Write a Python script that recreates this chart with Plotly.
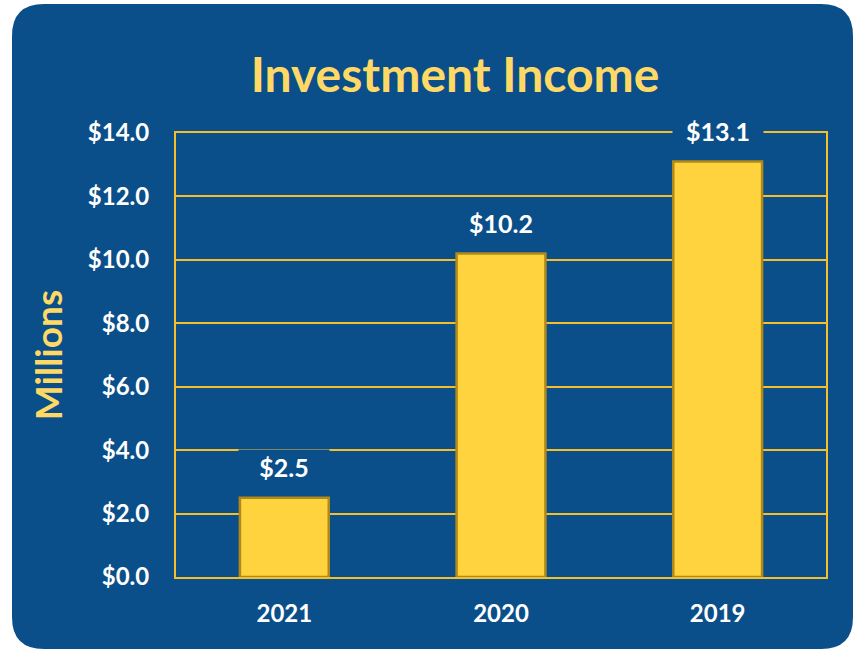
import plotly.graph_objects as go

years = ["2021", "2020", "2019"]
income = [2.5, 10.2, 13.1]
label_text = ["$2.5", "$10.2", "$13.1"]

BLUE = "#0B4F8A"
GOLD = "#F5BF2A"
BAR = "#FFD33D"
TITLE = "#FFD966"
FONT = "Lato"

W, H = 856, 651
L, R, T, B = 176, 30, 133, 74


def px_x(x):
    return (x - L) / (W - L - R)


def px_y(y):
    return (H - B - y) / (H - T - B)


def rounded_box(x0, y0, x1, y1, r):
    # rounded rectangle in pixel space, turned into paper coords
    pts = [
        f"M {px_x(x0 + r)},{px_y(y0)}",
        f"L {px_x(x1 - r)},{px_y(y0)}",
        f"Q {px_x(x1)},{px_y(y0)} {px_x(x1)},{px_y(y0 + r)}",
        f"L {px_x(x1)},{px_y(y1 - r)}",
        f"Q {px_x(x1)},{px_y(y1)} {px_x(x1 - r)},{px_y(y1)}",
        f"L {px_x(x0 + r)},{px_y(y1)}",
        f"Q {px_x(x0)},{px_y(y1)} {px_x(x0)},{px_y(y1 - r)}",
        f"L {px_x(x0)},{px_y(y0 + r)}",
        f"Q {px_x(x0)},{px_y(y0)} {px_x(x0 + r)},{px_y(y0)}",
        "Z",
    ]
    return " ".join(pts)


fig = go.Figure(
    go.Bar(
        x=years,
        y=income,
        marker=dict(color=BAR, line=dict(color="#B08A18", width=2.5)),
        width=0.41,
        hoverinfo="skip",
    )
)

# numeric-looking category names would be read as indexes, so use the index
for i, (val, txt) in enumerate(zip(income, label_text)):
    fig.add_annotation(
        x=i, y=val, text=f"<b>{txt}</b>", showarrow=False, yshift=31,
        bgcolor=BLUE, width=86, borderpad=2,
        font=dict(family=FONT, size=25, color="white"),
    )

fig.add_shape(
    type="path", xref="paper", yref="paper", layer="below",
    path=rounded_box(12, 4, 853, 649, 32),
    fillcolor=BLUE, line=dict(width=0),
)

fig.update_layout(
    width=W, height=H,
    margin=dict(l=L, r=R, t=T, b=B),
    paper_bgcolor="white",
    plot_bgcolor="rgba(0,0,0,0)",
    showlegend=False,
    title=dict(
        text="<b>Investment Income</b>", x=455 / W, xanchor="center",
        y=1 - 75 / H, yanchor="middle",
        font=dict(family=FONT, size=48, color=TITLE),
    ),
    xaxis=dict(
        type="category", range=[-0.5, len(years) - 0.5],
        showgrid=False, showline=True, mirror=True, linecolor=GOLD, linewidth=2,
        ticks="outside", ticklen=14, tickcolor="rgba(0,0,0,0)",
        tickfont=dict(family=FONT, size=24, color="white", weight="bold"),
    ),
    yaxis=dict(
        range=[0, 14], dtick=2, tickprefix="$", tickformat=".1f",
        showgrid=True, gridcolor=GOLD, gridwidth=2,
        showline=True, mirror=True, linecolor=GOLD, linewidth=2,
        zeroline=False,
        ticks="outside", ticklen=20, tickcolor="rgba(0,0,0,0)",
        tickfont=dict(family=FONT, size=24, color="white", weight="bold"),
        title=dict(text="<b>Millions</b>", standoff=14,
                   font=dict(family=FONT, size=37, color=TITLE)),
    ),
)

fig.write_html("out.html", config={"displayModeBar": False},
               post_script="document.body.style.margin='0';")
